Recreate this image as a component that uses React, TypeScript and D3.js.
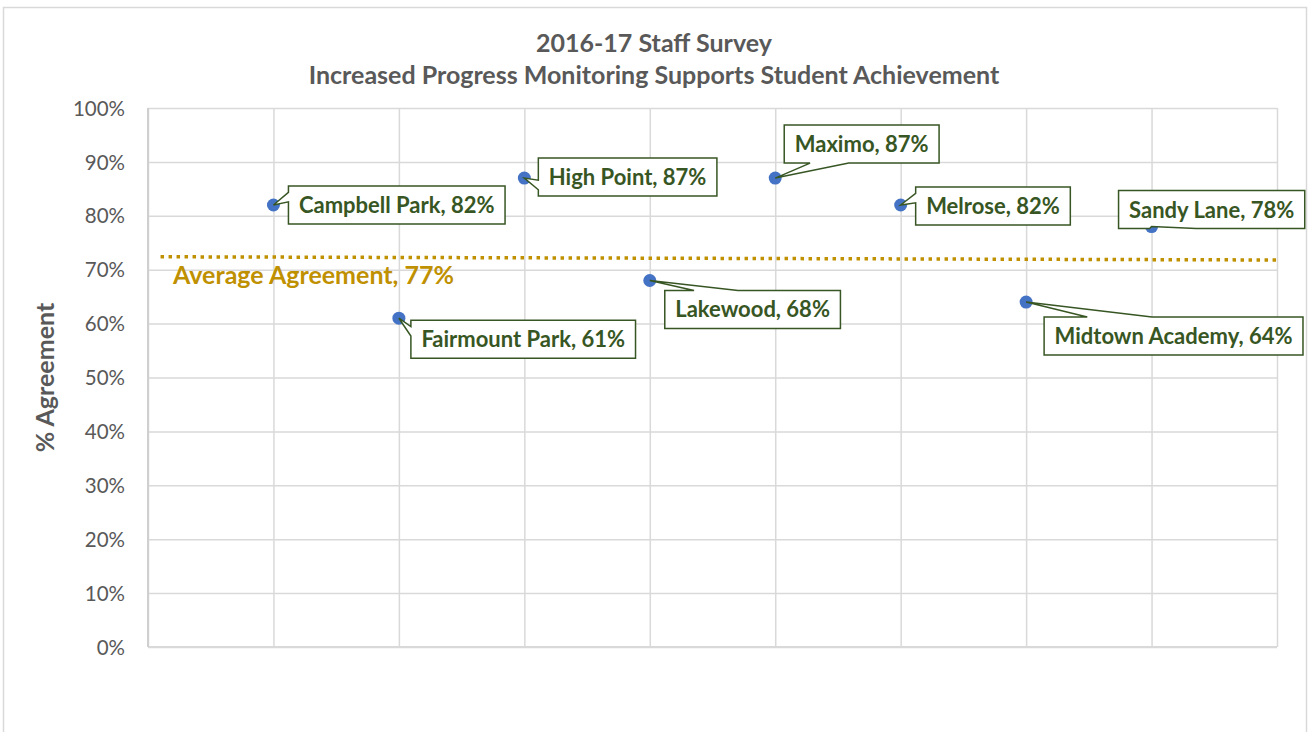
import React, { useRef, useEffect } from "react";
import * as d3 from "d3";

// survey data
const schools = [
  "Campbell Park",
  "Fairmount Park",
  "High Point",
  "Lakewood",
  "Maximo",
  "Melrose",
  "Midtown Academy",
  "Sandy Lane",
];
const agreement = [82, 61, 87, 68, 87, 82, 64, 78];
const yTicks = [0, 10, 20, 30, 40, 50, 60, 70, 80, 90, 100];
const avgLineX = [0.1, 9];
const avgLineY = [72.4, 71.8];
const avgLabel = "Average Agreement, 77%";
const titleLines = [
  "2016-17 Staff Survey",
  "Increased Progress Monitoring Supports Student Achievement",
];

// where each callout box sits relative to its point (box top-left)
const labelOffsets = [
  [15, -19],
  [12, 2],
  [14, -20],
  [15, 10],
  [9, -53],
  [15, -18],
  [18, 15],
  [-33, -36],
];

const W = 1312;
const H = 732;
const FONT = "Lato, 'Open Sans', sans-serif";
const GRID = "#d9d9d9";
const TEXT = "#595959";
const GREEN = "#375623";
const GOLD = "#bf9000";

function calloutPath(x, y, w, h, tx, ty) {
  const dx = tx - (x + w / 2);
  const dy = ty - (y + h / 2);
  const dq = (dx * h) / w;
  if (Math.abs(dy) > Math.abs(dq)) {
    const x1 = x + (w * (dx > 0 ? 7 : 2)) / 12;
    const x2 = x + (w * (dx > 0 ? 10 : 5)) / 12;
    if (dy < 0)
      return `M${x},${y}L${x1},${y}L${tx},${ty}L${x2},${y}L${x + w},${y}L${x + w},${y + h}L${x},${y + h}Z`;
    return `M${x},${y}L${x + w},${y}L${x + w},${y + h}L${x2},${y + h}L${tx},${ty}L${x1},${y + h}L${x},${y + h}Z`;
  }
  const y1 = y + (h * (dy > 0 ? 7 : 2)) / 12;
  const y2 = y + (h * (dy > 0 ? 10 : 5)) / 12;
  if (dx < 0)
    return `M${x},${y}L${x + w},${y}L${x + w},${y + h}L${x},${y + h}L${x},${y2}L${tx},${ty}L${x},${y1}Z`;
  return `M${x},${y}L${x + w},${y}L${x + w},${y1}L${tx},${ty}L${x + w},${y2}L${x + w},${y + h}L${x},${y + h}Z`;
}

const App = () => {
  const ref = useRef(null);

  useEffect(() => {
    const svg = d3.select(ref.current);
    svg.selectAll("*").remove();

    const margin = { top: 108, right: 35, bottom: 85, left: 148 };
    const x = d3.scaleLinear().domain([0, 9]).range([margin.left, W - margin.right]);
    const y = d3.scaleLinear().domain([0, 100]).range([H - margin.bottom, margin.top]);

    svg
      .append("rect")
      .attr("x", 3.5)
      .attr("y", 7.5)
      .attr("width", 1303)
      .attr("height", 740)
      .attr("fill", "#fff")
      .attr("stroke", GRID)
      .attr("stroke-width", 1.5);

    // horizontal grid
    const yAxisG = svg
      .append("g")
      .attr("transform", `translate(${margin.left},0)`)
      .call(
        d3
          .axisLeft(y)
          .tickValues(yTicks)
          .tickSize(-(x(9) - x(0)))
          .tickPadding(23)
          .tickFormat((d) => `${d}%`)
      );
    yAxisG.select(".domain").remove();
    yAxisG.selectAll("line").attr("stroke", GRID).attr("stroke-width", 1.5);
    yAxisG
      .selectAll("text")
      .attr("fill", TEXT)
      .attr("font-family", FONT)
      .attr("font-size", 20.5)
      .attr("dy", "0.35em");

    // vertical grid
    const xAxisG = svg
      .append("g")
      .attr("transform", `translate(0,${y(0)})`)
      .call(
        d3
          .axisBottom(x)
          .tickValues(d3.range(0, 10))
          .tickSize(-(y(0) - y(100)))
          .tickFormat(() => "")
      );
    xAxisG.select(".domain").remove();
    xAxisG.selectAll("line").attr("stroke", GRID).attr("stroke-width", 1.5);
    svg
      .append("line")
      .attr("x1", x(0))
      .attr("x2", x(9))
      .attr("y1", y(0))
      .attr("y2", y(0))
      .attr("stroke", GRID)
      .attr("stroke-width", 2);
    svg
      .append("line")
      .attr("x1", x(0))
      .attr("x2", x(0))
      .attr("y1", y(0))
      .attr("y2", y(100))
      .attr("stroke", "#cfcfcf")
      .attr("stroke-width", 2);

    // title
    svg
      .append("g")
      .selectAll("text")
      .data(titleLines)
      .join("text")
      .attr("x", 654)
      .attr("y", (d, i) => 52 + i * 32)
      .attr("text-anchor", "middle")
      .attr("font-family", FONT)
      .attr("font-weight", "bold")
      .attr("font-size", 25)
      .attr("fill", TEXT)
      .text((d) => d);

    svg
      .append("text")
      .attr("transform", `translate(54,${(y(0) + y(100)) / 2}) rotate(-90)`)
      .attr("text-anchor", "middle")
      .attr("font-family", FONT)
      .attr("font-weight", "bold")
      .attr("font-size", 25)
      .attr("fill", TEXT)
      .text("% Agreement");

    // average line
    const avgData = avgLineX.map((v, i) => [v, avgLineY[i]]);
    svg
      .append("path")
      .attr(
        "d",
        d3
          .line()
          .x((d) => x(d[0]))
          .y((d) => y(d[1]))(avgData)
      )
      .attr("fill", "none")
      .attr("stroke", GOLD)
      .attr("stroke-width", 3.5)
      .attr("stroke-dasharray", "3.5,4.5");
    svg
      .append("text")
      .attr("x", 173)
      .attr("y", 284)
      .attr("font-family", FONT)
      .attr("font-weight", "bold")
      .attr("font-size", 25)
      .attr("fill", GOLD)
      .text(avgLabel);

    // points
    const data = schools.map((s, i) => ({ name: s, x: i + 1, v: agreement[i] }));
    svg
      .append("g")
      .selectAll("circle")
      .data(data)
      .join("circle")
      .attr("cx", (d) => x(d.x))
      .attr("cy", (d) => y(d.v))
      .attr("r", 6.5)
      .attr("fill", "#4472c4");

    // callout labels
    const boxH = 38;
    data.forEach((d, i) => {
      const px = x(d.x);
      const py = y(d.v);
      const g = svg.append("g");
      const path = g.append("path");
      const t = g
        .append("text")
        .attr("font-family", FONT)
        .attr("font-weight", "bold")
        .attr("font-size", 22)
        .attr("fill", GREEN)
        .attr("text-anchor", "middle")
        .text(`${d.name}, ${d.v}%`);
      const tw = t.node().getComputedTextLength();
      const bw = Math.min(tw + 21, W - 7 - (px + labelOffsets[i][0]));
      const bx = px + labelOffsets[i][0];
      const by = py + labelOffsets[i][1];
      t.attr("x", bx + bw / 2).attr("y", by + boxH / 2 + 8);
      path
        .attr("d", calloutPath(bx, by, bw, boxH, px, py))
        .attr("fill", "#fff")
        .attr("stroke", GREEN)
        .attr("stroke-width", 1.5);
    });
  }, []);

  return (
    <svg
      ref={ref}
      width={W}
      height={H}
      style={{ position: "absolute", left: 0, top: 0, background: "#fff" }}
    />
  );
};

export default App;
